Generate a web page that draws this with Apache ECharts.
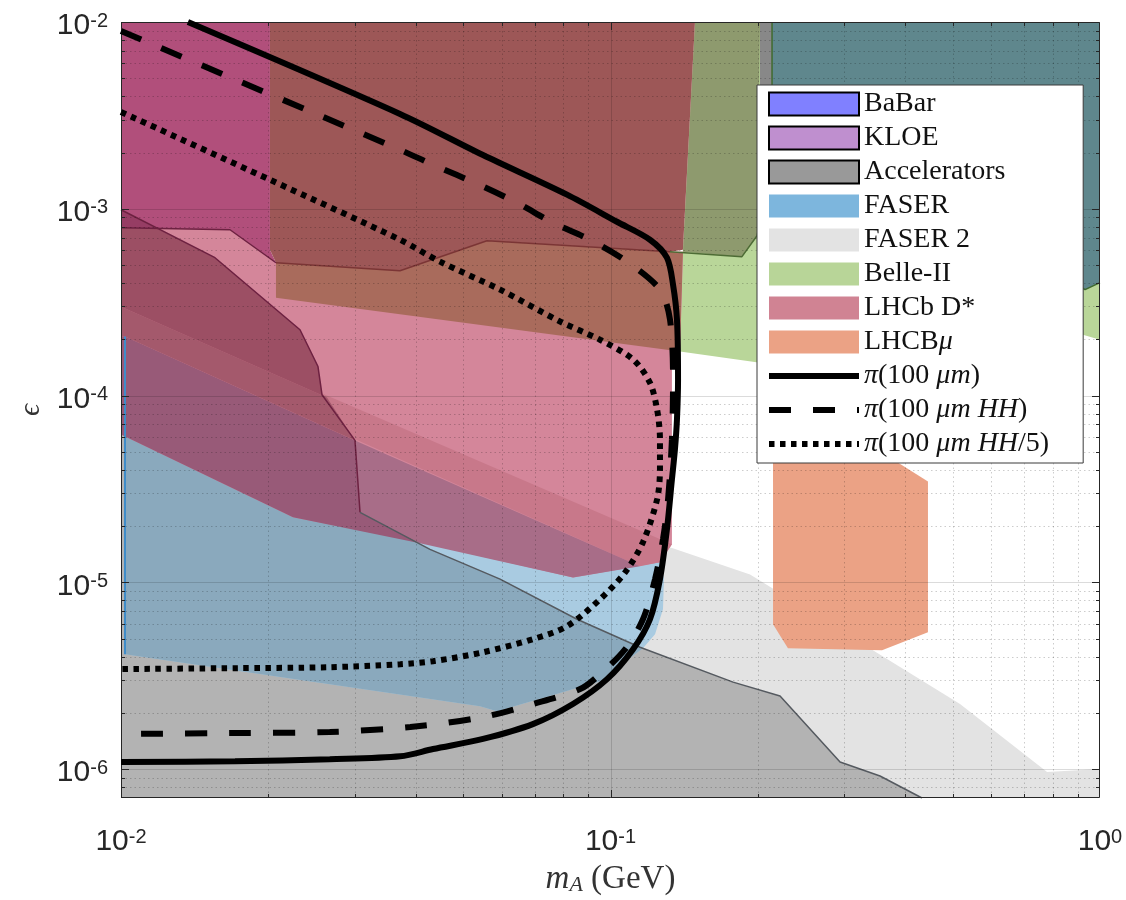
<!DOCTYPE html>
<html>
<head>
<meta charset="utf-8">
<script src="https://cdn.jsdelivr.net/npm/echarts@6/dist/echarts.min.js"></script>
<style>html,body{margin:0;padding:0;background:#fff}#chart{width:1126px;height:900px}</style>
</head>
<body>
<div id="chart"></div>
<script>
// ---------- axis ranges (m_A in GeV, epsilon) ----------
const xRange = [0.01, 1];
const yRange = [7e-7, 1e-2];

// ---------- excluded / sensitivity regions, points [m_A, epsilon] ----------
const faser2Region = [[0.01,2.78e-5],[0.1304,1.56e-5],[0.1928,1.10e-5],[0.5176,2.23e-6],[0.7796,9.64e-7],[1.0,1.0e-6],[1.0,7e-7],[0.01,7e-7]];
const belle2Region = [[0.1488,1e-2],[1,1e-2],[1,1.99e-4],[0.919,2.12e-4],[0.202,1.50e-4],[0.1387,1.72e-4],[0.1406,6.04e-4]];
const babarRegion = [[0.2138,1e-2],[1,1e-2],[1,4.02e-4],[0.932,3.69e-4],[0.2138,3.69e-4]];
const belle2Overlap = [[0.1488,1e-2],[0.202,1e-2],[0.1992,7.17e-4],[0.1856,5.54e-4],[0.1406,5.89e-4]];
const kloeStrip = [[0.202,1e-2],[0.2138,1e-2],[0.2138,1.117e-3],[0.202,1.117e-3]];
const acceleratorsRegion = [[0.01,9.88e-4],[0.01556,5.47e-4],[0.02321,2.25e-4],[0.02526,1.43e-4],[0.02574,1.01e-4],[0.03006,5.75e-5],[0.03078,2.37e-5],[0.04278,1.50e-5],[0.05948,1.04e-5],[0.08543,6.34e-6],[0.1149,4.49e-6],[0.1780,2.92e-6],[0.2220,2.46e-6],[0.2944,1.09e-6],[0.3553,9.18e-7],[0.4329,7e-7],[0.01,7e-7]];
const faserRegion = [[0.01019,2.07e-4],[0.1149,1.22e-5],[0.1262,1.33e-5],[0.1286,1.04e-5],[0.1280,7.17e-6],[0.1233,5.27e-6],[0.1165,4.44e-6],[0.1122,4.12e-6],[0.0952,2.95e-6],[0.05865,2.04e-6],[0.05412,2.17e-6],[0.01019,4.12e-6]];
const faserOnAccel = [[0.01019,2.07e-4],[0.03006,5.75e-5],[0.03078,2.37e-5],[0.04278,1.50e-5],[0.05948,1.04e-5],[0.08543,6.34e-6],[0.1165,4.44e-6],[0.1122,4.12e-6],[0.0952,2.95e-6],[0.05865,2.04e-6],[0.05412,2.17e-6],[0.01019,4.12e-6]];
const lhcbRegion = [[0.01,7.91e-4],[0.0167,7.72e-4],[0.02073,5.14e-4],[0.1406,5.89e-4],[0.1387,1.72e-4],[0.1335,1.72e-4],[0.1335,1.60e-5],[0.1262,1.28e-5],[0.08383,1.06e-5],[0.04082,1.64e-5],[0.02246,2.23e-5],[0.01,6.19e-5]];
const lhcbBand = [[0.01,2.99e-4],[0.1335,1.60e-5],[0.1262,1.28e-5],[0.1149,1.22e-5],[0.01019,2.07e-4],[0.01,2.07e-4]];
const lhcbOnFaser = [[0.03006,5.75e-5],[0.1149,1.22e-5],[0.08383,1.06e-5],[0.04082,1.62e-5],[0.03078,2.37e-5]];
const lhcbOnFaserAccel = [[0.01,2.07e-4],[0.01019,2.07e-4],[0.03006,5.75e-5],[0.03078,2.37e-5],[0.04082,1.62e-5],[0.02246,2.23e-5],[0.01,6.19e-5]];
const lhcbBandOnAccel = [[0.01,2.99e-4],[0.02635,9.75e-5],[0.03006,5.75e-5],[0.01019,2.07e-4],[0.01,2.07e-4]];
const lhcbOnAccel = [[0.01,7.91e-4],[0.01185,7.82e-4],[0.01556,5.47e-4],[0.02321,2.25e-4],[0.02526,1.43e-4],[0.02574,1.01e-4],[0.02635,9.75e-5],[0.01,2.99e-4]];
const topLeftRegion = [[0.01,1e-2],[0.02015,1e-2],[0.02015,6.04e-4],[0.02073,5.14e-4],[0.0167,7.72e-4],[0.01,7.91e-4]];
const topLeftOnAccel = [[0.01,9.88e-4],[0.01185,7.82e-4],[0.01,7.91e-4]];
const topMidRegion = [[0.02015,1e-2],[0.1488,1e-2],[0.1406,6.04e-4],[0.1323,5.89e-4],[0.05593,6.74e-4],[0.03715,4.66e-4],[0.02073,5.14e-4],[0.02015,6.04e-4]];
const midBandRegion = [[0.02073,5.14e-4],[0.03715,4.66e-4],[0.05593,6.74e-4],[0.1323,5.89e-4],[0.1406,5.89e-4],[0.1387,1.72e-4],[0.02073,3.34e-4]];
const lhcbMuRegion = [[0.2148,4.84e-5],[0.3638,4.84e-5],[0.4452,3.47e-5],[0.4452,5.40e-6],[0.3587,4.33e-6],[0.2304,4.44e-6],[0.2148,5.96e-6]];

// ---------- region outlines ----------
const accelEdgeUpper = [[0.01,9.88e-4],[0.01556,5.47e-4],[0.02321,2.25e-4],[0.02526,1.43e-4],[0.02574,1.01e-4],[0.03006,5.75e-5],[0.03078,2.37e-5]];
const accelEdgeLower = [[0.03078,2.37e-5],[0.04278,1.50e-5],[0.05948,1.04e-5],[0.08543,6.34e-6],[0.1149,4.49e-6],[0.1780,2.92e-6],[0.2220,2.46e-6],[0.2944,1.09e-6],[0.3553,9.18e-7],[0.4329,7e-7]];
const lhcbTopEdge = [[0.01,7.91e-4],[0.0167,7.72e-4],[0.02073,5.14e-4]];
const midEdge = [[0.02073,5.14e-4],[0.03715,4.66e-4],[0.05593,6.74e-4],[0.1323,5.89e-4]];
const belleEdge = [[0.1323,5.89e-4],[0.1856,5.54e-4],[0.1992,7.17e-4],[0.2068,1.117e-3]];
const babarEdgeLeft = [[0.2138,1e-2],[0.2138,1.117e-3]];
const babarEdgeBottom = [[0.919,3.78e-4],[0.932,3.69e-4],[1,4.02e-4]];
const faserEdge = [[0.01019,2.07e-4],[0.01019,4.12e-6]];

// ---------- projected reach curves ----------
const piSolid = [[0.0137,1e-2],[0.03715,3.22e-3],[0.05489,1.94e-3],[0.0815,1.19e-3],[0.1031,8.52e-4],[0.1204,6.83e-4],[0.1304,5.47e-4],[0.1342,3.92e-4],[0.1367,2.55e-4],[0.1374,1.22e-4],[0.1367,7.44e-5],[0.1354,5.14e-5],[0.1335,3.55e-5],[0.1304,1.92e-5],[0.1262,1.04e-5],[0.1204,6.34e-6],[0.1112,4.38e-6],[0.0984,3.03e-6],[0.0838,2.23e-6],[0.0694,1.74e-6],[0.0549,1.45e-6],[0.0434,1.28e-6],[0.0372,1.17e-6],[0.0267,1.13e-6],[0.0171,1.10e-6],[0.01,1.09e-6]];
const piDashed = [[0.01,8.95e-3],[0.03715,2.07e-3],[0.0434,1.72e-3],[0.0541,1.34e-3],[0.0644,1.077e-3],[0.0763,8.41e-4],[0.0908,6.83e-4],[0.1081,5.21e-4],[0.1262,3.69e-4],[0.1323,2.55e-4],[0.1342,1.22e-4],[0.1335,5.82e-5],[0.1311,2.78e-5],[0.128,1.70e-5],[0.1233,1.04e-5],[0.1165,6.34e-6],[0.1071,4.38e-6],[0.0952,3.22e-6],[0.0867,2.68e-6],[0.0694,2.23e-6],[0.0549,1.90e-6],[0.0390,1.68e-6],[0.0267,1.58e-6],[0.0171,1.56e-6],[0.01,1.54e-6]];
const piDotted = [[0.01,3.30e-3],[0.02015,1.43e-3],[0.03715,6.83e-4],[0.04484,5.21e-4],[0.0595,3.69e-4],[0.0789,2.49e-4],[0.0952,1.99e-4],[0.1112,1.56e-4],[0.1204,1.17e-4],[0.1245,8.41e-5],[0.1262,5.82e-5],[0.1262,4.02e-5],[0.1245,2.78e-5],[0.1165,1.64e-5],[0.1071,1.13e-5],[0.0952,8.11e-6],[0.0815,5.82e-6],[0.0694,4.96e-6],[0.0549,4.22e-6],[0.0434,3.78e-6],[0.0372,3.64e-6],[0.0267,3.51e-6],[0.0171,3.47e-6],[0.01,3.43e-6]];

// ---------- legend ----------
const legendNames = ['BaBar','KLOE','Accelerators','FASER','FASER 2','Belle-II','LHCb D*','LHCBμ','π(100 μm)','π(100 μm HH)','π(100 μm HH/5)'];
const legendLabels = ['BaBar','KLOE','Accelerators','FASER','FASER 2','Belle-II','LHCb D*','LHCB{it|μ}','{it|π}(100 {it|μm})','{it|π}(100 {it|μm HH})','{it|π}(100 {it|μm HH}/5)'];

const chart = echarts.init(document.getElementById('chart'), null, {renderer: 'canvas'});

function region(name, pts, fill) {
  return {
    type: 'custom', name: name, z: 1, silent: true, clip: true,
    data: pts, encode: {x: 0, y: 1},
    renderItem: function (params, api) {
      if (params.dataIndex !== 0) return null;
      return {type: 'polygon', shape: {points: pts.map(function (p) { return api.coord(p); })},
              style: {fill: fill, stroke: null}};
    }
  };
}
function edge(pts, color, width) {
  return {type: 'line', z: 2, silent: true, data: pts, symbol: 'none',
          lineStyle: {color: color, width: width}};
}
function curve(name, pts, dash, width) {
  return {type: 'line', name: name, z: 4, silent: true, data: pts, symbol: 'none', smooth: 0.3,
          itemStyle: {color: '#000'},
          lineStyle: {color: '#000', width: width, type: dash, cap: 'butt'}};
}

const decor = {
  type: 'custom', z: 3, silent: true, data: [[0.1, 1e-4]], encode: {x: 0, y: 1},
  renderItem: function (params, api) {
    const cs = params.coordSys;
    const L = cs.x, T = cs.y, R = cs.x + cs.width, B = cs.y + cs.height;
    const ch = [];
    const xs = [], ys = [];
    for (let e = -2; e <= -1; e++) for (let m = 1; m <= 9; m++) xs.push([m * Math.pow(10, e), m === 1]);
    for (let e = -7; e <= -3; e++) for (let m = 1; m <= 9; m++) {
      const v = m * Math.pow(10, e);
      if (v >= yRange[0] * 1.0001 && v < yRange[1]) ys.push([v, m === 1]);
    }
    xs.forEach(function (t) {
      const px = Math.round(api.coord([t[0], 1e-4])[0]) + 0.5;
      if (px > L + 1 && px < R - 1) {
        ch.push({type: 'line', shape: {x1: px, y1: T, x2: px, y2: B},
          style: t[1] ? {stroke: 'rgba(0,0,0,0.14)', lineWidth: 1} : {stroke: 'rgba(0,0,0,0.2)', lineWidth: 1, lineDash: [1.5, 3]}});
      }
      const len = t[1] ? 8 : 4;
      ch.push({type: 'line', shape: {x1: px, y1: B, x2: px, y2: B - len}, style: {stroke: '#262626', lineWidth: 1}});
      ch.push({type: 'line', shape: {x1: px, y1: T, x2: px, y2: T + len}, style: {stroke: '#262626', lineWidth: 1}});
    });
    ys.forEach(function (t) {
      const py = Math.round(api.coord([0.1, t[0]])[1]) + 0.5;
      if (py > T + 1 && py < B - 1) {
        ch.push({type: 'line', shape: {x1: L, y1: py, x2: R, y2: py},
          style: t[1] ? {stroke: 'rgba(0,0,0,0.14)', lineWidth: 1} : {stroke: 'rgba(0,0,0,0.2)', lineWidth: 1, lineDash: [1.5, 3]}});
      }
      const len = t[1] ? 8 : 4;
      ch.push({type: 'line', shape: {x1: L, y1: py, x2: L + len, y2: py}, style: {stroke: '#262626', lineWidth: 1}});
      ch.push({type: 'line', shape: {x1: R, y1: py, x2: R - len, y2: py}, style: {stroke: '#262626', lineWidth: 1}});
    });
    ch.push({type: 'rect', shape: {x: L + 0.5, y: T + 0.5, width: cs.width - 1, height: cs.height - 1},
             style: {fill: null, stroke: '#262626', lineWidth: 1}});
    return {type: 'group', children: ch};
  }
};

function expLabel(v) {
  const l = Math.log10(v), e = Math.round(l);
  if (Math.abs(l - e) > 1e-6) return '';
  return '{b|10}{s|' + e + '}';
}
const tickRich = {
  b: {fontSize: 30, fontFamily: 'Liberation Sans', color: '#262626', lineHeight: 30, padding: [6, 0, 0, 0], verticalAlign: 'bottom'},
  s: {fontSize: 20, fontFamily: 'Liberation Sans', color: '#262626', lineHeight: 20, verticalAlign: 'top'}
};

const lineLegendStyle = {opacity: 0};
const legendData = [
  {name: 'BaBar', icon: 'rect', itemStyle: {color: '#8080ff', borderColor: '#000', borderWidth: 2}},
  {name: 'KLOE', icon: 'rect', itemStyle: {color: '#bf8fcf', borderColor: '#000', borderWidth: 2}},
  {name: 'Accelerators', icon: 'rect', itemStyle: {color: '#999999', borderColor: '#000', borderWidth: 2}},
  {name: 'FASER', icon: 'rect', itemStyle: {color: '#7db6dd', borderWidth: 0}},
  {name: 'FASER 2', icon: 'rect', itemStyle: {color: '#e3e3e3', borderWidth: 0}},
  {name: 'Belle-II', icon: 'rect', itemStyle: {color: '#b8d598', borderWidth: 0}},
  {name: 'LHCb D*', icon: 'rect', itemStyle: {color: '#d08393', borderWidth: 0}},
  {name: 'LHCBμ', icon: 'rect', itemStyle: {color: '#eba285', borderWidth: 0}},
  {name: 'π(100 μm)', itemStyle: lineLegendStyle, lineStyle: {width: 6}},
  {name: 'π(100 μm HH)', itemStyle: lineLegendStyle, lineStyle: {width: 6}},
  {name: 'π(100 μm HH/5)', itemStyle: lineLegendStyle, lineStyle: {width: 6}}
];

const series = [
  region('FASER 2', faser2Region, '#e3e3e3'),
  region('Belle-II', belle2Region, '#b9d699'),
  region('BaBar', babarRegion, '#5f878d'),
  region('Belle-II', belle2Overlap, '#8e9a6e'),
  region('KLOE', kloeStrip, '#888888'),
  region('Accelerators', acceleratorsRegion, '#b3b3b3'),
  region('FASER', faserRegion, '#a9cbe1'),
  region('FASER', faserOnAccel, '#8aa9bd'),
  region('LHCb D*', lhcbRegion, '#d4869a'),
  region('LHCb D*', lhcbBand, '#c8788a'),
  region('LHCb D*', lhcbOnFaser, '#a86d88'),
  region('LHCb D*', lhcbOnFaserAccel, '#985a78'),
  region('LHCb D*', lhcbBandOnAccel, '#a4596c'),
  region('LHCb D*', lhcbOnAccel, '#9c4f64'),
  region('LHCb D*', topLeftRegion, '#b14f7b'),
  region('LHCb D*', topLeftOnAccel, '#963d64'),
  region('LHCb D*', topMidRegion, '#9d5757'),
  region('LHCb D*', midBandRegion, '#a96b5c'),
  region('LHCBμ', lhcbMuRegion, '#eba285'),
  edge(accelEdgeUpper, '#6d2141', 1.5),
  edge(accelEdgeLower, '#555a60', 1.5),
  edge(lhcbTopEdge, '#6d2141', 1.5),
  edge(midEdge, '#7b3535', 1.5),
  edge(belleEdge, '#4d6b35', 1.5),
  edge(babarEdgeLeft, '#3f6a2f', 1.5),
  edge(babarEdgeBottom, '#3f6a2f', 1.5),
  edge(faserEdge, '#3f8cc8', 2),
  decor,
  curve('π(100 μm)', piSolid, 'solid', 6),
  curve('π(100 μm HH)', piDashed, [22, 22], 6),
  curve('π(100 μm HH/5)', piDotted, [5.5, 5.5], 6)
];

chart.setOption({
  animation: false,
  backgroundColor: '#ffffff',
  grid: {left: 121, top: 22, width: 979, height: 776, containLabel: false, outerBoundsMode: 'none'},
  xAxis: {
    type: 'log', logBase: 10, min: xRange[0], max: xRange[1],
    axisLine: {show: false}, axisTick: {show: false}, splitLine: {show: false},
    axisLabel: {margin: 29, formatter: expLabel, rich: tickRich},
    name: '{m|m}{a|A}{g| (GeV)}', nameLocation: 'middle', nameGap: 65,
    nameTextStyle: {rich: {
      m: {fontFamily: 'Liberation Serif', fontStyle: 'italic', fontSize: 33, color: '#333', lineHeight: 33, verticalAlign: 'top', padding: [0, 0, 8, 0]},
      a: {fontFamily: 'Liberation Serif', fontStyle: 'italic', fontSize: 22, color: '#333', lineHeight: 22, verticalAlign: 'bottom'},
      g: {fontFamily: 'Liberation Serif', fontSize: 33, color: '#333', lineHeight: 33, verticalAlign: 'top', padding: [0, 0, 8, 0]}
    }}
  },
  yAxis: {
    type: 'log', logBase: 10, min: yRange[0], max: yRange[1],
    axisLine: {show: false}, axisTick: {show: false}, splitLine: {show: false},
    axisLabel: {margin: 13, padding: [8, 0, 0, 0], formatter: expLabel, rich: tickRich},
    name: 'ϵ', nameLocation: 'middle', nameGap: 74, nameRotate: 90,
    nameTextStyle: {fontFamily: 'Liberation Serif, DejaVu Serif', fontStyle: 'italic', fontSize: 30, color: '#333'}
  },
  legend: {
    orient: 'vertical', left: 757, top: 85, z: 10, selectedMode: false,
    backgroundColor: '#ffffff', borderColor: '#3a3a3a', borderWidth: 1,
    padding: [5, 34, 5, 9], itemWidth: 90, itemHeight: 23, itemGap: 6,
    data: legendData,
    formatter: function (name) { return legendLabels[legendNames.indexOf(name)]; },
    textStyle: {fontFamily: 'Liberation Serif', fontSize: 28, color: '#111',
      rich: {it: {fontFamily: 'Liberation Serif', fontStyle: 'italic', fontSize: 28, color: '#111'}}}
  },
  series: series
});
</script>
</body>
</html>
